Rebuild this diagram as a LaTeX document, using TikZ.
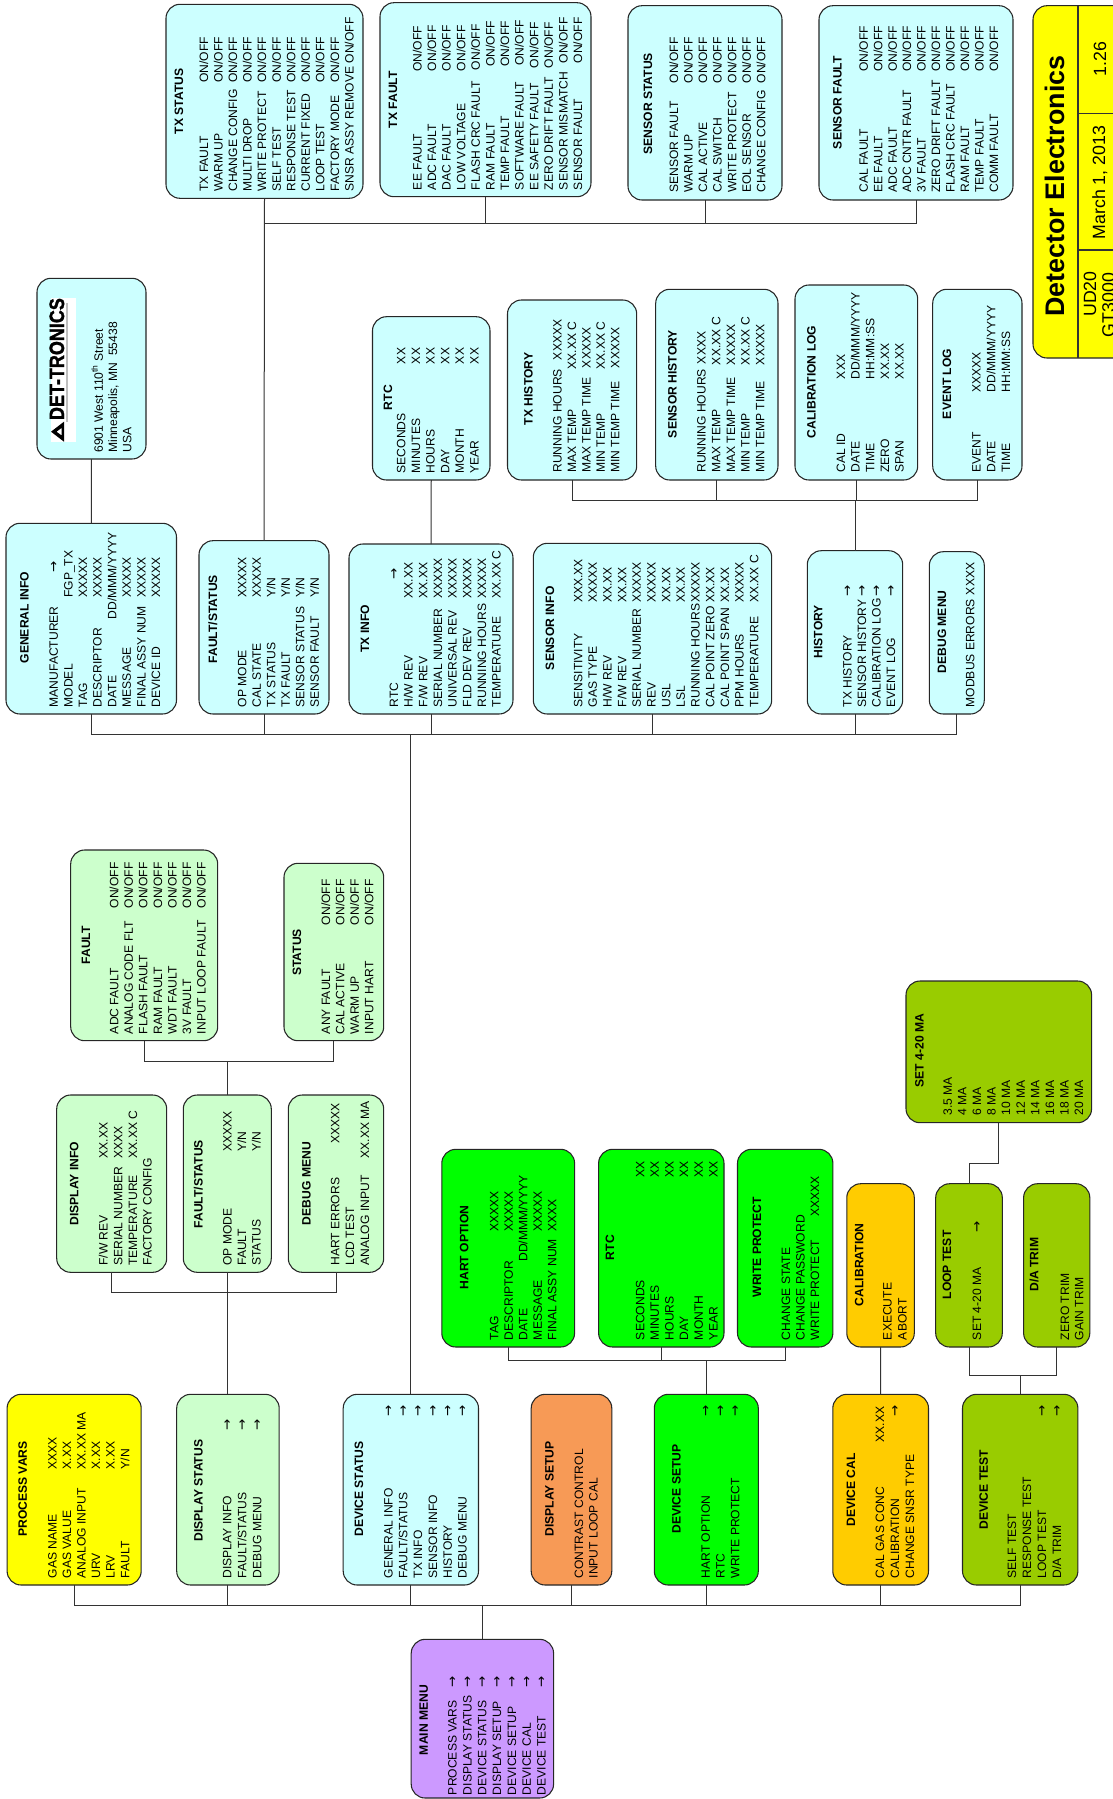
\documentclass[tikz,border=0pt]{standalone}
\usepackage{fontspec}
\usepackage{graphicx}
\setmainfont{Liberation Sans}
\newfontfamily\logofont[BoldFeatures={FakeBold=1.6}]{Liberation Sans}
\newfontfamily\arrowfont{DejaVu Sans}
\newcommand\arw{{\arrowfont\fontsize{10pt}{11pt}\selectfont →}}
\definecolor{cCyan}{HTML}{CCFFFF}
\definecolor{cMint}{HTML}{CCFFCC}
\definecolor{cYel}{HTML}{FFFF00}
\definecolor{cOra}{HTML}{F79A56}
\definecolor{cLime}{HTML}{00FF00}
\definecolor{cAmb}{HTML}{FFCC00}
\definecolor{cOli}{HTML}{99CC00}
\definecolor{cPur}{HTML}{CC99FF}
\tikzset{
  boxst/.style={draw=black!85,line width=.8pt,rounded corners=10.5pt,inner sep=0pt,outer sep=0pt},
  lab/.style={rotate=90,anchor=base west,inner sep=0pt,outer sep=0pt,font=\fontsize{9.08pt}{11pt}\selectfont},
  ttl/.style={lab,font=\fontsize{9.1pt}{11pt}\selectfont\bfseries},
  conn/.style={draw=black!80,line width=.75pt},
  big/.style={rotate=90,anchor=base west,inner sep=0pt,outer sep=0pt,font=\fontsize{13.3pt}{15pt}\selectfont}
}
\newcount\tn
\newcommand\bx[6]{\node[boxst,fill=#6,minimum width={(#4-#2)*0.75pt},minimum height={(#5-#3)*0.75pt}] (#1) at ({(#2+#4)/2},{(#3+#5)/2}) {};}
\newcommand\Ti[3]{\global\advance\tn by 1 \node[ttl] (t\the\tn) at (#1,#2) {#3};}
\newcommand\RS[4]{\def\rowx{#1}\def\rowp{#2}\def\laby{#3}\def\valy{#4}}
\newcommand\adv{\pgfmathsetmacro\rowx{\rowx+\rowp}}
\newcommand\La[1]{\global\advance\tn by 1 \node[lab] (t\the\tn) at (\rowx,\laby) {#1};\adv}
\newcommand\R[2]{\global\advance\tn by 1 \node[lab] (t\the\tn) at (\rowx,\laby) {#1};\global\advance\tn by 1 \node[lab] (t\the\tn) at (\rowx,\valy) {#2};\adv}
\newcommand\Rv[3]{\global\advance\tn by 1 \node[lab] (t\the\tn) at (\rowx,\laby) {#1};\global\advance\tn by 1 \node[lab] (t\the\tn) at (\rowx,#2) {#3};\adv}
\begin{document}
\begin{tikzpicture}[x=0.75pt,y=-0.75pt]
\useasboundingbox (0,0) rectangle (1113,1799);
\clip (0,0) rectangle (1113,1799);
% ---------- boxes
\bx{txstatus}{166}{4.3}{363}{198.3}{cCyan}
\bx{txfault}{380}{2.7}{591}{196.7}{cCyan}
\bx{sstatus}{628}{5.7}{782}{200}{cCyan}
\bx{sfault}{819}{5.7}{1013}{200}{cCyan}
\bx{logo}{37}{278.3}{146}{459}{cCyan}
\bx{general}{6}{523.3}{176.5}{714}{cCyan}
\bx{fs}{199}{540.7}{329}{714}{cCyan}
\bx{txinfo}{349}{544}{513}{714}{cCyan}
\bx{rtca}{372.5}{316.7}{490}{480}{cCyan}
\bx{txhist}{507.5}{300}{636.7}{480}{cCyan}
\bx{shist}{655.7}{289.3}{778}{480}{cCyan}
\bx{callog}{795}{285}{917.7}{480}{cCyan}
\bx{evlog}{932.7}{289.3}{1022}{480}{cCyan}
\bx{sinfo}{533.3}{543.3}{771.7}{714}{cCyan}
\bx{history}{807.3}{550.7}{902.7}{714}{cCyan}
\bx{debuga}{929.3}{551.7}{984.3}{714}{cCyan}
\bx{fault}{70.7}{850}{217.7}{1040.7}{cMint}
\bx{status}{284}{863.3}{383.7}{1040.7}{cMint}
\bx{dinfo}{56.7}{1095}{166.7}{1272.3}{cMint}
\bx{dfs}{183.3}{1095}{271.3}{1272.3}{cMint}
\bx{ddebug}{288.3}{1095}{383.7}{1272.3}{cMint}
\bx{hart}{441.8}{1149.3}{574.6}{1347}{cLime}
\bx{rtcb}{598.6}{1149.3}{724}{1347}{cLime}
\bx{wp}{737.5}{1149.3}{832.9}{1347}{cLime}
\bx{calib}{846.8}{1183.7}{914.3}{1347}{cAmb}
\bx{loop}{935.7}{1183.7}{1002.3}{1347}{cOli}
\bx{datrim}{1023.6}{1183.7}{1089.8}{1347}{cOli}
\bx{setma}{906}{981}{1091.6}{1122.7}{cOli}
\bx{pvars}{7.1}{1394.3}{141.2}{1585}{cYel}
\bx{dstatus}{176.7}{1394.3}{279.2}{1585}{cMint}
\bx{devstatus}{343.2}{1394.3}{478.5}{1585}{cCyan}
\bx{dsetup}{531.2}{1394.3}{611.8}{1585}{cOra}
\bx{devsetup}{654.3}{1394.3}{758.3}{1585}{cLime}
\bx{devcal}{832.8}{1394.3}{928.5}{1585}{cAmb}
\bx{devtest}{962.5}{1394.3}{1077.9}{1585}{cOli}
\bx{mainm}{411.2}{1639.3}{553.6}{1798}{cPur}
% ---------- title block
\bx{tblock}{1033}{5.7}{1160}{358}{cYel}
\coordinate (dv1) at (1078,0);
\draw[conn,line width=.9pt] (tblock.north -| dv1) -- (tblock.south -| dv1);
\coordinate (dh1) at (1113,113.3);
\coordinate (dh2) at (1113,250);
\draw[conn,line width=.9pt] (dh1 -| dv1) -- (dh1);
\draw[conn,line width=.9pt] (dh2 -| dv1) -- (dh2);
\node[big,font=\fontsize{20.15pt}{24pt}\selectfont\bfseries] (tb1) at (1064,316.7) {Detector Electronics};
\node[big] (tb2) at (1106,76) {1.26};
\node[big] (tb3) at (1105,239.3) {March 1, 2013};
\node[big] (tb4) at (1096,316.7) {UD20};
\node[big] (tb5) at (1114.5,337) {GT3000};
% ---------- connectors
\coordinate (bTop) at (0,223.5);
\coordinate (bHist) at (0,500.5);
\coordinate (bMid) at (0,734.5);
\coordinate (bDs) at (0,1061.5);
\coordinate (bDd) at (0,1292.5);
\coordinate (bSet) at (0,1360.5);
\coordinate (bTest) at (0,1375.5);
\coordinate (bLoop) at (0,1163.5);
\coordinate (bMain) at (0,1605.5);
\draw[conn] (txfault.south) -- (txfault.south |- bTop);
\draw[conn] (sstatus.south) -- (sstatus.south |- bTop);
\draw[conn] (txstatus.south) -- (fs.north);
\draw[conn] (txstatus.south |- bTop) -| (sfault.south);
\draw[conn] (logo.south) -- (general.north);
\draw[conn] (rtca.south) -- (txinfo.north);
\draw[conn] (txhist.south) -- (txhist.south |- bHist) -| (evlog.south);
\draw[conn] (shist.south) -- (shist.south |- bHist);
\draw[conn] (callog.south) -- (callog.south |- bHist);
\draw[conn] (history.north) -- (history.north |- bHist);
\draw[conn] (general.south) -- (general.south |- bMid) -| (debuga.south);
\draw[conn] (fs.south) -- (fs.south |- bMid);
\draw[conn] (txinfo.south) -- (txinfo.south |- bMid);
\draw[conn] (sinfo.south) -- (sinfo.south |- bMid);
\draw[conn] (history.south) -- (history.south |- bMid);
\draw[conn] (devstatus.north) -- (devstatus.north |- bMid);
\draw[conn] (fault.south) -- (fault.south |- bDs) -| (status.south);
\draw[conn] (dfs.north) -- (dfs.north |- bDs);
\draw[conn] (dinfo.south) -- (dinfo.south |- bDd) -| (ddebug.south);
\draw[conn] (dfs.south) -- (dfs.south |- bDd);
\draw[conn] (dstatus.north) -- (dstatus.north |- bDd);
\draw[conn] (hart.south) -- (hart.south |- bSet) -| (wp.south);
\draw[conn] (rtcb.south) -- (rtcb.south |- bSet);
\draw[conn] (devsetup.north) -- (devsetup.north |- bSet);
\draw[conn] (calib.south) -- (devcal.north);
\draw[conn] (loop.south) -- (loop.south |- bTest) -| (datrim.south);
\draw[conn] (devtest.north) -- (devtest.north |- bTest);
\draw[conn] (loop.north) -- (loop.north |- bLoop) -| (setma.south);
\draw[conn] (pvars.south) -- (pvars.south |- bMain) -| (devtest.south);
\draw[conn] (dstatus.south) -- (dstatus.south |- bMain);
\draw[conn] (devstatus.south) -- (devstatus.south |- bMain);
\draw[conn] (dsetup.south) -- (dsetup.south |- bMain);
\draw[conn] (devsetup.south) -- (devsetup.south |- bMain);
\draw[conn] (devcal.south) -- (devcal.south |- bMain);
\draw[conn] (mainm.north) -- (mainm.north |- bMain);
% ---------- TX STATUS
\Ti{183}{134.3}{TX STATUS}
\RS{208}{14.56}{191.7}{82.7}
\R{TX FAULT}{ON/OFF}\R{WARM UP}{ON/OFF}\R{CHANGE CONFIG}{ON/OFF}\R{MULTI DROP}{ON/OFF}\R{WRITE PROTECT}{ON/OFF}\R{SELF TEST}{ON/OFF}\R{RESPONSE TEST}{ON/OFF}\R{CURRENT FIXED}{ON/OFF}\R{LOOP TEST}{ON/OFF}\R{FACTORY MODE}{ON/OFF}\La{SNSR ASSY REMOVE ON/OFF}
% ---------- TX FAULT
\Ti{397}{128.3}{TX FAULT}
\RS{421.5}{14.6}{190}{71}
\Rv{EE FAULT}{71.7}{ON/OFF}\R{ADC FAULT}{ON/OFF}\R{DAC FAULT}{ON/OFF}\R{LOW VOLTAGE}{ON/OFF}\Rv{FLASH CRC FAULT}{70}{ON/OFF}\Rv{RAM FAULT}{66.7}{ON/OFF}\Rv{TEMP FAULT}{66.7}{ON/OFF}\Rv{SOFTWARE FAULT}{65.7}{ON/OFF}\Rv{EE SAFETY FAULT}{68}{ON/OFF}\Rv{ZERO DRIFT FAULT}{68}{ON/OFF}\Rv{SENSOR MISMATCH}{63.3}{ON/OFF}\Rv{SENSOR FAULT}{63.3}{ON/OFF}
% ---------- SENSOR STATUS
\Ti{652}{154.3}{SENSOR STATUS}
\RS{678}{14.57}{192.7}{83.3}
\R{SENSOR FAULT}{ON/OFF}\R{WARM UP}{ON/OFF}\R{CAL ACTIVE}{ON/OFF}\R{CAL SWITCH}{ON/OFF}\R{WRITE PROTECT}{ON/OFF}\R{EOL SENSOR}{ON/OFF}\R{CHANGE CONFIG}{ON/OFF}
% ---------- SENSOR FAULT
\Ti{841.6}{149}{SENSOR FAULT}
\RS{867.8}{14.47}{192.7}{71.7}
\R{CAL FAULT}{ON/OFF}\R{EE FAULT}{ON/OFF}\R{ADC FAULT}{ON/OFF}\R{ADC CNTR FAULT}{ON/OFF}\R{3V FAULT}{ON/OFF}\R{ZERO DRIFT FAULT}{ON/OFF}\R{FLASH CRC FAULT}{ON/OFF}\R{RAM FAULT}{ON/OFF}\R{TEMP FAULT}{ON/OFF}\R{COMM FAULT}{ON/OFF}
% ---------- logo
\fill[white] (51,297.7) rectangle (76,441.7);
\draw[black!25,line width=.8pt] (67,303) -- (67,422);
\node[rotate=90,anchor=base west,inner sep=0pt,outer sep=0pt,font=\logofont\bfseries\fontsize{15.5pt}{16pt}\selectfont] (logot) at (64,420) {\scalebox{.87}[1]{DET-TRONICS}};
\fill[black,even odd rule] (51,431.7) -- (64,421.7) -- (64,441.7) -- cycle (56.5,431.7) -- (61.5,428) -- (61.5,435.4) -- cycle;
\RS{102.8}{14.3}{452.7}{0}
\La{6901 West 110\textsuperscript{th} Street}\La{Minneapolis, MN\ \ 55438}\La{USA}
% ---------- GENERAL INFO
\Ti{28.6}{663.3}{GENERAL INFO}
\RS{57.9}{14.6}{707.3}{597.7}
\Rv{MANUFACTURER}{572}{\arw}\R{MODEL}{FGP\_TX}\R{TAG}{XXXXX}\R{DESCRIPTOR}{XXXXX}\Rv{DATE}{619.3}{DD/MMM/YYYY}\R{MESSAGE}{XXXXX}\R{FINAL ASSY NUM}{XXXXX}\R{DEVICE ID}{XXXXX}
% ---------- FAULT/STATUS
\Ti{217}{663.3}{FAULT/STATUS}
\RS{246.4}{14.5}{707.3}{597.7}
\R{OP MODE}{XXXXX}\R{CAL STATE}{XXXXX}\R{TX STATUS}{Y/N}\R{TX FAULT}{Y/N}\R{SENSOR STATUS}{Y/N}\R{SENSOR FAULT}{Y/N}
% ---------- TX INFO
\Ti{369}{652.7}{TX INFO}
\RS{398}{14.67}{707.3}{598.3}
\Rv{RTC}{579.3}{\arw}\R{H/W REV}{XX.XX}\R{F/W REV}{XX.XX}\R{SERIAL NUMBER}{XXXXX}\R{UNIVERSAL REV}{XXXXX}\R{FLD DEV REV}{XXXXX}\R{RUNNING HOURS}{XXXXX}\R{TEMPERATURE}{XX.XX C}
% ---------- RTC
\Ti{392}{410}{RTC}
\RS{405.4}{14.64}{473.3}{364}
\R{SECONDS}{XX}\R{MINUTES}{XX}\R{HOURS}{XX}\R{DAY}{XX}\R{MONTH}{XX}\R{YEAR}{XX}
% ---------- TX HISTORY
\Ti{532.7}{425}{TX HISTORY}
\RS{561.7}{14.4}{472.7}{368}
\Rv{RUNNING HOURS}{360}{XXXXX}\Rv{MAX TEMP}{369.3}{XX.XX C}\R{MAX TEMP TIME}{XXXXX}\Rv{MIN TEMP}{369.3}{XX.XX C}\R{MIN TEMP TIME}{XXXXX}
% ---------- SENSOR HISTORY
\Ti{676.7}{438}{SENSOR HISTORY}
\RS{705.7}{14.65}{472.7}{365}
\Rv{RUNNING HOURS}{364}{XXXX}\R{MAX TEMP}{XX.XX C}\R{MAX TEMP TIME}{XXXXX}\R{MIN TEMP}{XX.XX C}\R{MIN TEMP TIME}{XXXXX}
% ---------- CALIBRATION LOG
\Ti{815.7}{438}{CALIBRATION LOG}
\RS{845}{14.67}{472.7}{379}
\R{CAL ID}{XXX}\R{DATE}{DD/MMM/YYYY}\R{TIME}{HH:MM:SS}\R{ZERO}{XX.XX}\R{SPAN}{XX.XX}
% ---------- EVENT LOG
\Ti{951}{419}{EVENT LOG}
\RS{980.7}{14.65}{472.7}{392.3}
\R{EVENT}{XXXXX}\R{DATE}{DD/MMM/YYYY}\R{TIME}{HH:MM:SS}
% ---------- SENSOR INFO
\Ti{554}{670}{SENSOR INFO}
\RS{582.3}{14.67}{707.3}{602.7}
\R{SENSITIVITY}{XXX.XX}\R{GAS TYPE}{XXXXX}\R{H/W REV}{XX.XX}\R{F/W REV}{XX.XX}\R{SERIAL NUMBER}{XXXXX}\R{REV}{XXXXX}\R{USL}{XX.XX}\R{LSL}{XX.XX}\R{RUNNING HOURS}{XXXXX}\R{CAL POINT ZERO}{XX.XX}\R{CAL POINT SPAN}{XX.XX}\R{PPM HOURS}{XXXXX}\R{TEMPERATURE}{XX.XX C}
% ---------- HISTORY
\Ti{822.3}{658.3}{HISTORY}
\RS{851.7}{14.44}{707.3}{596}
\R{TX HISTORY}{\arw}\R{SENSOR HISTORY}{\arw}\R{CALIBRATION LOG}{\arw}\R{EVENT LOG}{\arw}
% ---------- DEBUG MENU
\Ti{946}{673.3}{DEBUG MENU}
\RS{974.3}{14.6}{707.3}{595}
\R{MODBUS ERRORS}{XXXX}
% ---------- FAULT
\Ti{90}{964.3}{FAULT}
\RS{118.3}{14.57}{1034}{908.3}
\R{ADC FAULT}{ON/OFF}\R{ANALOG CODE FLT}{ON/OFF}\R{FLASH FAULT}{ON/OFF}\R{RAM FAULT}{ON/OFF}\R{WDT FAULT}{ON/OFF}\R{3V FAULT}{ON/OFF}\R{INPUT LOOP FAULT}{ON/OFF}
% ---------- STATUS
\Ti{301}{975.7}{STATUS}
\RS{330}{14.44}{1034}{925}
\R{ANY FAULT}{ON/OFF}\R{CAL ACTIVE}{ON/OFF}\R{WARM UP}{ON/OFF}\R{INPUT HART}{ON/OFF}
% ---------- DISPLAY INFO
\Ti{78.3}{1225.7}{DISPLAY INFO}
\RS{107.7}{14.67}{1265.7}{1158.3}
\R{F/W REV}{XX.XX}\R{SERIAL NUMBER}{XXXX}\R{TEMPERATURE}{XX.XX C}\La{FACTORY CONFIG}
% ---------- FAULT/STATUS 2
\Ti{202.7}{1228.3}{FAULT/STATUS}
\RS{231.7}{14.5}{1265.7}{1151.7}
\R{OP MODE}{XXXXX}\R{FAULT}{Y/N}\R{STATUS}{Y/N}
% ---------- DEBUG MENU 2
\Ti{310.7}{1225}{DEBUG MENU}
\RS{339.3}{14.85}{1265.7}{1143.3}
\R{HART ERRORS}{XXXXX}\La{LCD TEST}\Rv{ANALOG INPUT}{1158.3}{XX.XX MA}
% ---------- HART OPTION
\Ti{468.3}{1289.3}{HART OPTION}
\RS{498.4}{14.5}{1340}{1231.7}
\R{TAG}{XXXXX}\R{DESCRIPTOR}{XXXXX}\Rv{DATE}{1261.7}{DD/MMM/YYYY}\R{MESSAGE}{XXXXX}\R{FINAL ASSY NUM}{XXXX}
% ---------- RTC 2
\Ti{614}{1260}{RTC}
\RS{644.3}{14.64}{1340}{1177.3}
\R{SECONDS}{XX}\R{MINUTES}{XX}\R{HOURS}{XX}\R{DAY}{XX}\R{MONTH}{XX}\R{YEAR}{XX}
% ---------- WRITE PROTECT
\Ti{761}{1297.3}{WRITE PROTECT}
\RS{790.2}{14.4}{1340}{1216.7}
\La{CHANGE STATE}\La{CHANGE PASSWORD}\R{WRITE PROTECT}{XXXXX}
% ---------- CALIBRATION
\Ti{863.4}{1306}{CALIBRATION}
\RS{891.7}{15}{1340}{0}
\La{EXECUTE}\La{ABORT}
% ---------- LOOP TEST
\Ti{951}{1299.3}{LOOP TEST}
\RS{981}{14.6}{1340}{1232}
\R{SET 4-20 MA}{\arw}
% ---------- D/A TRIM
\Ti{1038.4}{1291.7}{D/A TRIM}
\RS{1069}{14.4}{1340}{0}
\La{ZERO TRIM}\La{GAIN TRIM}
% ---------- SET 4-20 MA
\Ti{923.5}{1087.3}{SET 4-20 MA}
\RS{951.8}{14.6}{1115.7}{0}
\La{3.5 MA}\La{4 MA}\La{6 MA}\La{8 MA}\La{10 MA}\La{12 MA}\La{14 MA}\La{16 MA}\La{18 MA}\La{20 MA}
% ---------- PROCESS VARS
\Ti{26.9}{1536.7}{PROCESS VARS}
\RS{56.5}{14.56}{1578.3}{1469.3}
\R{GAS NAME}{XXXX}\R{GAS VALUE}{X.XX}\R{ANALOG INPUT}{XX.XX MA}\R{URV}{X.XX}\R{LRV}{X.XX}\R{FAULT}{Y/N}
% ---------- DISPLAY STATUS
\Ti{202.5}{1541.3}{DISPLAY STATUS}
\RS{231.3}{15}{1578.3}{1430}
\R{DISPLAY INFO}{\arw}\R{FAULT/STATUS}{\arw}\R{DEBUG MENU}{\arw}
% ---------- DEVICE STATUS
\Ti{363}{1536.7}{DEVICE STATUS}
\RS{392.6}{14.8}{1578.3}{1416}
\R{GENERAL INFO}{\arw}\R{FAULT/STATUS}{\arw}\R{TX INFO}{\arw}\R{SENSOR INFO}{\arw}\R{HISTORY}{\arw}\R{DEBUG MENU}{\arw}
% ---------- DISPLAY SETUP
\Ti{553.6}{1536.7}{DISPLAY SETUP}
\RS{583}{14.5}{1578.3}{0}
\La{CONTRAST CONTROL}\La{INPUT LOOP CAL}
% ---------- DEVICE SETUP
\Ti{680.7}{1533.3}{DEVICE SETUP}
\RS{709.9}{14.75}{1578.3}{1416}
\R{HART OPTION}{\arw}\R{RTC}{\arw}\R{WRITE PROTECT}{\arw}
% ---------- DEVICE CAL
\Ti{855}{1526.7}{DEVICE CAL}
\RS{884.2}{14.9}{1578.3}{1442.3}
\R{CAL GAS CONC}{XX.XX}\Rv{CALIBRATION}{1416}{\arw}\La{CHANGE SNSR TYPE}
% ---------- DEVICE TEST
\Ti{987.9}{1529.3}{DEVICE TEST}
\RS{1016.2}{15}{1578.3}{1416}
\La{SELF TEST}\La{RESPONSE TEST}\R{LOOP TEST}{\arw}\R{D/A TRIM}{\arw}
% ---------- MAIN MENU
\Ti{427.8}{1755}{MAIN MENU}
\RS{456.7}{14.83}{1795}{1687.7}
\R{PROCESS VARS}{\arw}\R{DISPLAY STATUS}{\arw}\R{DEVICE STATUS}{\arw}\R{DISPLAY SETUP}{\arw}\R{DEVICE SETUP}{\arw}\R{DEVICE CAL}{\arw}\R{DEVICE TEST}{\arw}
\end{tikzpicture}
\end{document}
